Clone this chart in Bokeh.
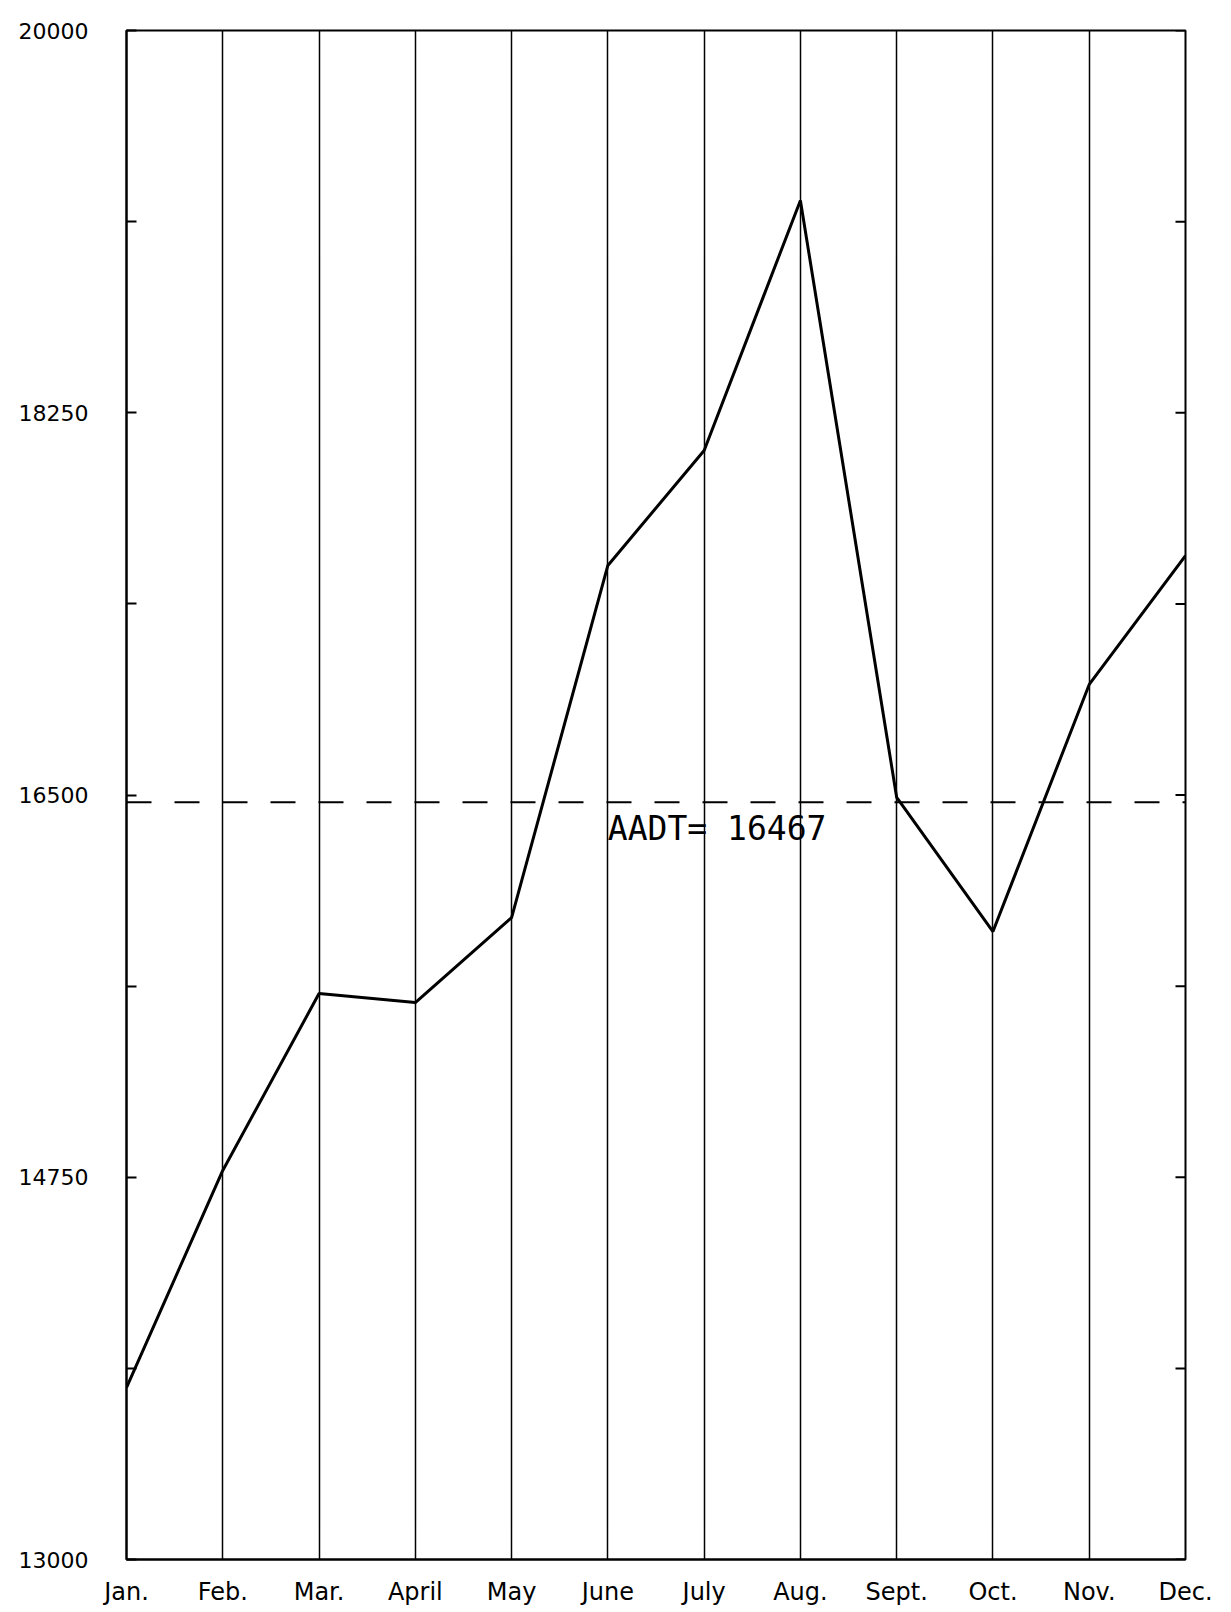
import math
from bokeh.plotting import figure
from bokeh.models import Range1d, FixedTicker, Span, Label
from bokeh.embed import file_html
from bokeh.resources import INLINE

months = ["Jan.", "Feb.", "Mar.", "April", "May", "June", "July", "Aug.",
          "Sept.", "Oct.", "Nov.", "Dec."]
traffic = [13787, 14781, 15591, 15550, 15939, 17551, 18077, 19222,
           16489, 15875, 17006, 17596]
aadt = 16467
y_labels = [13000, 14750, 16500, 18250, 20000]
y_minor = [13875, 15625, 17375, 19125]

x = list(range(len(months)))

p = figure(width=1223, height=1608, output_backend="svg", toolbar_location=None,
           x_range=Range1d(0, len(months) - 1), y_range=Range1d(13000, 20000),
           min_border_left=126, min_border_top=30, min_border_right=38,
           min_border_bottom=49)
p.background_fill_color = "white"
p.border_fill_color = "white"
p.outline_line_color = "black"
p.outline_line_width = 2

# x axis
p.xaxis.ticker = FixedTicker(ticks=x)
p.xaxis.major_label_overrides = {i: m for i, m in zip(x, months)}
p.xaxis.major_tick_in = 0
p.xaxis.major_tick_out = 0
p.xaxis.minor_tick_in = 0
p.xaxis.minor_tick_out = 0
p.xaxis.axis_line_color = "black"
p.xaxis.axis_line_width = 2
p.xaxis.major_label_text_font = "DejaVu Sans"
p.xaxis.major_label_text_font_size = "24px"
p.xaxis.major_label_text_color = "black"
p.xaxis.major_label_standoff = 18

# y axis
p.yaxis.ticker = FixedTicker(ticks=y_labels, minor_ticks=y_minor)
p.yaxis.major_tick_in = 10
p.yaxis.major_tick_out = 0
p.yaxis.minor_tick_in = 10
p.yaxis.minor_tick_out = 0
p.yaxis.axis_line_color = "black"
p.yaxis.axis_line_width = 2
p.yaxis.major_tick_line_color = "black"
p.yaxis.minor_tick_line_color = "black"
p.yaxis.major_tick_line_width = 2
p.yaxis.minor_tick_line_width = 2
p.yaxis.major_label_text_font = "DejaVu Sans"
p.yaxis.major_label_text_font_size = "22px"
p.yaxis.major_label_text_color = "black"
p.yaxis.major_label_text_baseline = "alphabetic"
p.yaxis.major_label_standoff = 38

# inward ticks on the right edge
right_ticks = y_labels + y_minor
p.ray(x=[x[-1]] * len(right_ticks), y=right_ticks, length=10,
      length_units="screen", angle=math.pi, line_color="black", line_width=2)

# grid
p.xgrid.ticker = FixedTicker(ticks=x)
p.xgrid.grid_line_color = "black"
p.xgrid.grid_line_width = 1.5
p.xgrid.grid_line_alpha = 1.0
p.ygrid.grid_line_color = None

# AADT dashed line
p.add_layout(Span(location=aadt, dimension="width", line_color="black",
                  line_width=2, line_dash="25 23"))
p.add_layout(Label(x=5, y=aadt - 120, text=f"AADT= {aadt}",
                   text_font="DejaVu Sans Mono", text_font_size="33px",
                   text_color="black", text_baseline="alphabetic",
                   text_align="left"))

# series
p.line(x, traffic, line_color="black", line_width=3)

open("out.html", "w").write(file_html(p, INLINE))
